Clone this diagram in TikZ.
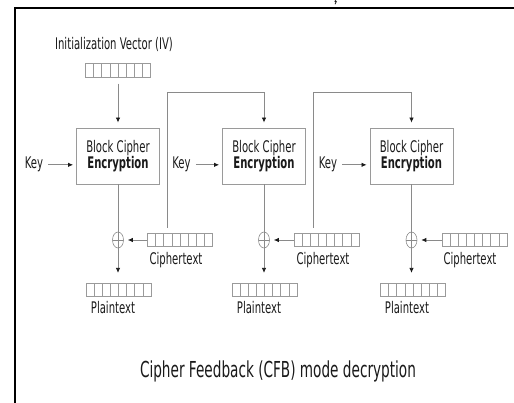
\documentclass[tikz,border=0pt]{standalone}
\usepackage{fontspec}
\setmainfont{DejaVu Sans}
\usepackage{graphicx}
\usetikzlibrary{arrows.meta,calc,shapes.geometric}
\newcommand{\sx}[1]{\scalebox{0.63}[1]{#1}}
\newcommand{\tx}[1]{\scalebox{0.62}[1]{#1}}
\definecolor{ln}{HTML}{8A8A8A}
\definecolor{bx}{HTML}{9A9A9A}
\definecolor{tk}{HTML}{1A1A1A}
\begin{document}
\begin{tikzpicture}[x=1pt,y=-1pt,
  lbl/.style={font=\fontsize{16}{16}\selectfont, text=tk, inner sep=0pt, anchor=base},
  cbox/.style={draw=bx, line width=0.9pt, minimum width=83pt, minimum height=56pt, inner sep=0pt,
    align=center, font=\fontsize{16}{15.7}\selectfont, text=tk},
  reg/.style={draw=bx, line width=0.7pt, minimum width=65pt, minimum height=13.5pt, inner sep=0pt,
    path picture={\foreach \i in {1,...,7}{\draw[bx, line width=0.7pt]
      ($(path picture bounding box.south west)!\i/8!(path picture bounding box.south east)$) --
      ($(path picture bounding box.north west)!\i/8!(path picture bounding box.north east)$);}}},
  xorc/.style={draw=ln, ellipse, minimum width=11pt, minimum height=16pt, inner sep=0pt, line width=0.6pt,
    path picture={\draw[ln, line width=0.6pt] (path picture bounding box.west) -- (path picture bounding box.east)
      (path picture bounding box.north) -- (path picture bounding box.south);}},
  conn/.style={draw=ln, line width=0.8pt},
  arr/.style={conn, -{Latex[length=5pt,width=4.5pt,color=tk]}}
]
\path[use as bounding box] (0,0) rectangle (514,403);
\draw[black, line width=1.3pt] (15,403) -- (15,8) -- (514,8);
% small mark at the top edge
\fill[tk] (335.5,1.2) circle (1.1pt);
\draw[tk, line width=0.8pt] (336.4,1.4) -- (335,4.2);

% IV
\node[lbl] (ivl) at (114,50) {\sx{Initialization Vector (IV)}};
\node[reg] (ivr) at (118,70.5) {};

% boxes
\node[cbox] (b1) at (118,156) {\sx{Block Cipher}\\\sx{\textbf{Encryption}}};
\node[cbox] (b2) at (264,156) {\sx{Block Cipher}\\\sx{\textbf{Encryption}}};
\node[cbox] (b3) at (411.5,156) {\sx{Block Cipher}\\\sx{\textbf{Encryption}}};

% keys
\node[lbl] (k1) at (34,169) {\sx{Key}};
\node[lbl] (k2) at (181.5,169) {\sx{Key}};
\node[lbl] (k3) at (328,169) {\sx{Key}};

% xors
\node[xorc] (x1) at (118,240) {};
\node[xorc] (x2) at (264,240) {};
\node[xorc] (x3) at (411.5,240) {};

% ciphertext registers
\node[reg] (c1) at (180,240) {};
\node[reg] (c2) at (326.5,240) {};
\node[reg] (c3) at (474.5,240) {};
\node[lbl] (c1l) at (176,265) {\sx{Ciphertext}};
\node[lbl] (c2l) at (323,265) {\sx{Ciphertext}};
\node[lbl] (c3l) at (470,265) {\sx{Ciphertext}};

% plaintext registers
\node[reg] (p1) at (118.5,290) {};
\node[reg] (p2) at (264.5,290) {};
\node[reg] (p3) at (413,290) {};
\node[lbl] (p1l) at (113,314) {\sx{Plaintext}};
\node[lbl] (p2l) at (259,314) {\sx{Plaintext}};
\node[lbl] (p3l) at (407,314) {\sx{Plaintext}};

% title
\node[lbl, font=\fontsize{22}{22}\selectfont] (title) at (278,377.5) {\tx{Cipher Feedback (CFB) mode decryption}};

% connectors
\draw[arr, shorten <=6pt, shorten >=5pt] (ivr.south) -- (b1.north);
\foreach \k/\b in {k1/b1,k2/b2,k3/b3}{
  \draw[arr, shorten <=5pt, shorten >=3pt] (\k.east) -- (\k.east -| \b.west);
}
\foreach \b/\x/\c/\p in {b1/x1/c1/p1,b2/x2/c2/p2,b3/x3/c3/p3}{
  \draw[conn] (\x.north |- \b.south) -- (\x.north);
  \draw[arr, shorten >=10pt] (\x.south) -- (\x.south |- \p.north);
  \draw[arr, shorten >=4pt] (\c.west) -- (\x.east);
}
\draw[arr, shorten >=5pt] ($(c1.north west)+(20,-5)$) |- ($(b2.north)+(0,-35)$) -- (b2.north);
\draw[arr, shorten >=5pt] ($(c2.north west)+(20,-5)$) |- ($(b3.north)+(0,-35)$) -- (b3.north);
\end{tikzpicture}
\end{document}
